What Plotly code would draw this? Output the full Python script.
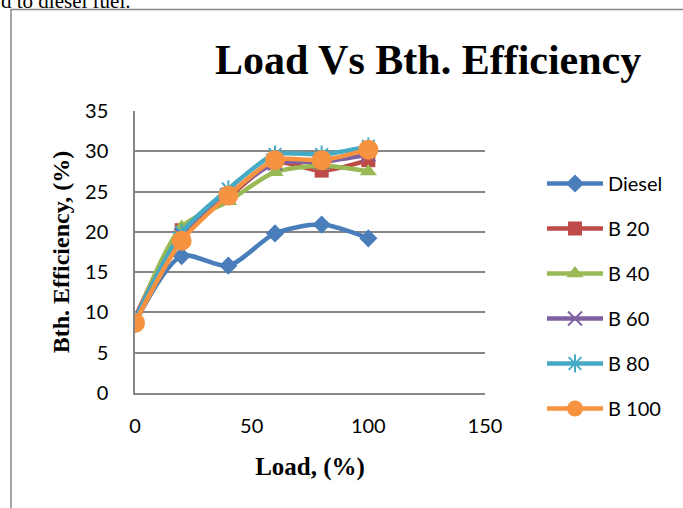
import plotly.graph_objects as go

# Engine load (%) and brake thermal efficiency (%) per fuel blend
load = [0, 20, 40, 60, 80, 100]
diesel = [8.7, 17.0, 15.8, 19.8, 20.9, 19.2]
b20 = [9.3, 20.2, 24.3, 28.6, 27.6, 28.9]
b40 = [8.9, 20.6, 23.8, 27.4, 28.2, 27.5]
b60 = [9.2, 19.6, 24.6, 28.5, 28.7, 29.6]
b80 = [9.0, 19.9, 25.3, 29.6, 29.6, 30.6]
b100 = [8.7, 18.9, 24.5, 28.9, 28.9, 30.2]

series_names = ["Diesel", "B 20", "B 40", "B 60", "B 80", "B 100"]
series_values = [diesel, b20, b40, b60, b80, b100]
colors = ["#4A7EBB", "#BE4B48", "#98B954", "#7D60A0", "#46AAC5", "#F69240"]
symbols = ["diamond", "square", "triangle-up", "x-thin-open", "asterisk-open", "circle"]
sizes = [14, 14, 15, 14, 15, 20]

W, H = 683, 508
L, R, T, B = 135, 485, 111, 393  # plot area in pixels


def px(x):
    return (x - L) / (R - L)


def py(y):
    return (B - y) / (B - T)


fig = go.Figure()
for i, (name, vals) in enumerate(zip(series_names, series_values)):
    open_sym = symbols[i].endswith("open")
    fig.add_trace(go.Scatter(
        x=load, y=vals, name=name, mode="lines+markers",
        legendgroup=name,
        line=dict(color=colors[i], width=4.5, shape="spline", smoothing=0.8),
        marker=dict(symbol=symbols[i], size=sizes[i], color=colors[i],
                    line=dict(color=colors[i], width=2 if open_sym else 0)),
    ))

fig.update_layout(
    width=W, height=H,
    margin=dict(l=L, r=W - R, t=T, b=H - B, autoexpand=False),
    paper_bgcolor="white", plot_bgcolor="white",
    showlegend=True,
    legend=dict(x=px(542), y=py(164), xanchor="left", yanchor="top",
                font=dict(family="Lato", size=20, color="black"),
                tracegroupgap=16, itemwidth=56, bgcolor="rgba(0,0,0,0)"),
    xaxis=dict(range=[0, 150], tickvals=[0, 50, 100, 150], showgrid=False,
               showline=True, linecolor="#868686", linewidth=1.5,
               zeroline=False, ticks="", ticklabelstandoff=14,
               tickfont=dict(family="Lato", size=20, color="black"),
               title=dict(text="<b>Load, (%)</b>", standoff=22,
                          font=dict(family="Liberation Serif", size=25, color="black")),
               automargin=False, fixedrange=True),
    yaxis=dict(range=[0, 35], dtick=5, showgrid=True, gridcolor="#868686", gridwidth=1.5,
               showline=True, linecolor="#868686", linewidth=1.5,
               zeroline=False, ticks="", ticklabelstandoff=21,
               tickfont=dict(family="Lato", size=20, color="black"),
               title=dict(text="<b>Bth. Efficiency, (%)</b>", standoff=9,
                          font=dict(family="Liberation Serif", size=24, color="black")),
               automargin=False, fixedrange=True),
    annotations=[
        dict(text="<b>Load Vs Bth. Efficiency</b>", xref="paper", yref="paper",
             x=px(427.5), y=py(60), xanchor="center", yanchor="middle", showarrow=False,
             font=dict(family="Liberation Serif", size=42, color="black")),
        dict(text="d to diesel fuel.", xref="paper", yref="paper",
             x=px(-1), y=py(15), xanchor="left", yanchor="bottom", showarrow=False,
             font=dict(family="Liberation Serif", size=21, color="black")),
    ],
    shapes=[
        dict(type="rect", xref="paper", yref="paper",
             x0=px(11), x1=px(700), y0=py(530), y1=py(9.5),
             line=dict(color="#888888", width=1.5), fillcolor="rgba(0,0,0,0)",
             layer="below"),
    ],
)

fig.write_html("out.html")
